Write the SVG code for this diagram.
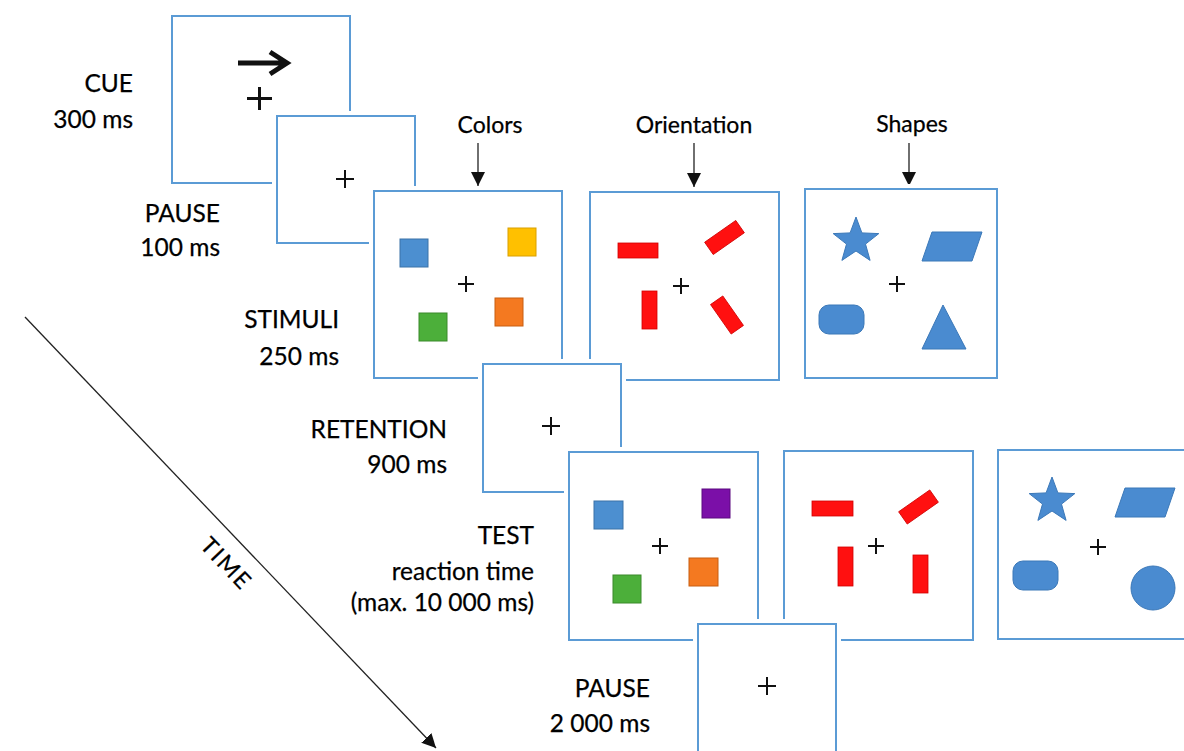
<svg xmlns="http://www.w3.org/2000/svg" width="1184" height="751" viewBox="0 0 1184 751">
  <style>
    .halo { fill: #ffffff; stroke: #ffffff; stroke-width: 10; }
    .box { fill: #ffffff; stroke: #5B9BD5; stroke-width: 2; }
    .lbl { font-family: Lato, "Liberation Sans", sans-serif; font-size: 24.5px; fill: #000000; stroke: #000000; stroke-width: 0.25; text-anchor: end; }
    .top { font-family: Lato, "Liberation Sans", sans-serif; font-size: 23px; fill: #000000; stroke: #000000; stroke-width: 0.25; text-anchor: middle; }
    .fix { stroke: #111111; stroke-width: 2; fill: none; }
    .red { fill: #FF1010; stroke: #D00000; stroke-width: 0.8; }
    .shp { fill: #4A8BD0; stroke: #3B78B8; stroke-width: 1; }
    .conn { stroke: #222222; stroke-width: 1.3; fill: none; }
  </style>
  <defs>
    <marker id="head" markerUnits="userSpaceOnUse" markerWidth="16" markerHeight="16" refX="14" refY="7" orient="auto">
      <path d="M0,0 L14,7 L0,14 Z" fill="#111111"/>
    </marker>
    <path id="star" d="M0,-24 L5.9,-8.1 L22.8,-7.4 L9.5,3.1 L14.1,19.4 L0,10 L-14.1,19.4 L-9.5,3.1 L-22.8,-7.4 L-5.9,-8.1 Z"/>
    <path id="plus" d="M-9,0 H9 M0,-9 V9"/>
    <path id="plusS" d="M-8,0 H8 M0,-8 V8"/>
  </defs>
  <rect x="0" y="0" width="1184" height="751" fill="#ffffff"/>

  <g id="connectors">
    <line class="conn" x1="478" y1="143" x2="478" y2="186" marker-end="url(#head)"/>
    <line class="conn" x1="694" y1="143" x2="694" y2="187" marker-end="url(#head)"/>
    <line class="conn" x1="909" y1="143" x2="909" y2="186" marker-end="url(#head)"/>
    <line class="conn" x1="25" y1="317" x2="436" y2="748" marker-end="url(#head)"/>
  </g>

  <g id="time-label">
    <text class="top" font-size="25" letter-spacing="2" dominant-baseline="central" transform="translate(227 563) rotate(46.4)">TIME</text>
  </g>

  <g id="top-labels">
    <text class="top" x="490" y="133">Colors</text>
    <text class="top" x="694" y="133">Orientation</text>
    <text class="top" x="912" y="132">Shapes</text>
  </g>

  <g id="cue">
    <rect class="halo" x="172" y="16" width="178" height="167"/>
    <rect class="box" x="172" y="16" width="178" height="167"/>
    <path d="M238,63 H284 M270,52 L287,63 L270,74" stroke="#111111" stroke-width="5" fill="none" stroke-linejoin="miter"/>
    <path d="M247,98.5 H272 M259.5,87 V110" stroke="#111111" stroke-width="3" fill="none"/>
    <text class="lbl" x="133" y="92">CUE</text>
    <text class="lbl" x="133" y="128">300 ms</text>
  </g>

  <g id="pause1">
    <rect class="halo" x="277" y="116" width="138" height="127"/>
    <rect class="box" x="277" y="116" width="138" height="127"/>
    <use href="#plus" class="fix" x="345" y="179"/>
    <text class="lbl" x="220" y="222">PAUSE</text>
    <text class="lbl" x="220" y="256">100 ms</text>
  </g>

  <g id="stimuli-colors">
    <rect class="halo" x="374" y="191" width="188" height="187"/>
    <rect class="box" x="374" y="191" width="188" height="187"/>
    <rect x="400" y="239" width="28" height="28" fill="#4C8FD0" stroke="#3A72A8"/>
    <rect x="508" y="228" width="28" height="28" fill="#FFC000" stroke="#D9A000"/>
    <rect x="495" y="298" width="28" height="28" fill="#F47920" stroke="#C85F10"/>
    <rect x="419" y="313" width="28" height="28" fill="#4CAF3A" stroke="#3A8A2A"/>
    <use href="#plusS" class="fix" x="466" y="284"/>
    <text class="lbl" x="339" y="328">STIMULI</text>
    <text class="lbl" x="339" y="365">250 ms</text>
  </g>

  <g id="stimuli-orientation">
    <rect class="halo" x="590" y="192" width="189" height="188"/>
    <rect class="box" x="590" y="192" width="189" height="188"/>
    <rect class="red" x="618" y="243" width="40" height="15"/>
    <rect class="red" x="-19" y="-7.5" width="38" height="15" transform="translate(724.5 237.5) rotate(-35)"/>
    <rect class="red" x="642" y="291" width="15" height="38"/>
    <rect class="red" x="-18" y="-7.5" width="36" height="15" transform="translate(727 315) rotate(55)"/>
    <use href="#plusS" class="fix" x="681" y="286"/>
  </g>

  <g id="stimuli-shapes">
    <rect class="halo" x="805" y="189" width="192" height="189"/>
    <rect class="box" x="805" y="189" width="192" height="189"/>
    <use href="#star" class="shp" x="856" y="241"/>
    <polygon class="shp" points="932,232 982,232 972,261 922,261"/>
    <rect class="shp" x="819" y="305" width="45" height="29" rx="10"/>
    <polygon class="shp" points="943,305 966,349 922,349"/>
    <use href="#plusS" class="fix" x="897" y="284"/>
  </g>

  <g id="retention">
    <rect class="halo" x="483" y="364" width="138" height="128"/>
    <rect class="box" x="483" y="364" width="138" height="128"/>
    <use href="#plus" class="fix" x="551" y="426"/>
    <text class="lbl" x="447" y="438">RETENTION</text>
    <text class="lbl" x="447" y="473">900 ms</text>
  </g>

  <g id="test-colors">
    <rect class="halo" x="569" y="452" width="189" height="188"/>
    <rect class="box" x="569" y="452" width="189" height="188"/>
    <rect x="594" y="501" width="29" height="28" fill="#4C8FD0" stroke="#3A72A8"/>
    <rect x="702" y="489" width="28" height="29" fill="#7B0FA8" stroke="#5C0A80"/>
    <rect x="689" y="558" width="29" height="28" fill="#F47920" stroke="#C85F10"/>
    <rect x="613" y="575" width="28" height="28" fill="#4CAF3A" stroke="#3A8A2A"/>
    <use href="#plusS" class="fix" x="660" y="546"/>
    <text class="lbl" x="534" y="544">TEST</text>
    <text class="lbl" x="534" y="580">reaction time</text>
    <text class="lbl" x="534" y="611">(max. 10 000 ms)</text>
  </g>

  <g id="test-orientation">
    <rect class="halo" x="784" y="451" width="189" height="189"/>
    <rect class="box" x="784" y="451" width="189" height="189"/>
    <rect class="red" x="812" y="501" width="41" height="15"/>
    <rect class="red" x="-19" y="-7.5" width="38" height="15" transform="translate(918.5 507) rotate(-35)"/>
    <rect class="red" x="838" y="547" width="15" height="39"/>
    <rect class="red" x="913" y="555" width="15" height="38"/>
    <use href="#plusS" class="fix" x="876" y="546"/>
  </g>

  <g id="test-shapes">
    <rect class="halo" x="998" y="450" width="200" height="189"/>
    <rect class="box" x="998" y="450" width="200" height="189"/>
    <use href="#star" class="shp" x="1052" y="501"/>
    <polygon class="shp" points="1125,488 1175,488 1165,517 1115,517"/>
    <rect class="shp" x="1013" y="561" width="45" height="29" rx="10"/>
    <circle class="shp" cx="1153" cy="588" r="22"/>
    <use href="#plusS" class="fix" x="1098" y="547"/>
  </g>

  <g id="pause2">
    <rect class="halo" x="698" y="624" width="138" height="140"/>
    <rect class="box" x="698" y="624" width="138" height="140"/>
    <use href="#plus" class="fix" x="767" y="686"/>
    <text class="lbl" x="650" y="697">PAUSE</text>
    <text class="lbl" x="650" y="732">2 000 ms</text>
  </g>
</svg>
